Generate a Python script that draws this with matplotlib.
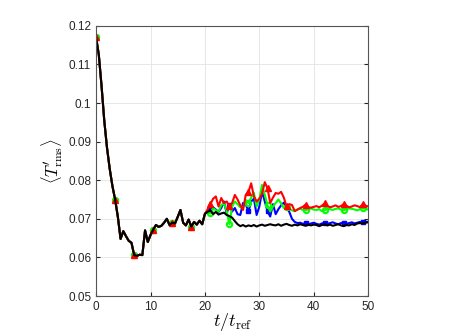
import numpy as np
import matplotlib
matplotlib.use("Agg")
import matplotlib.pyplot as plt

plt.rcParams['font.family'] = ['Liberation Sans', 'DejaVu Sans']
plt.rcParams['mathtext.fontset'] = 'cm'

# time axis, step 0.5 from 0 to 50
t = np.arange(0, 50.01, 0.5)

# common transient (t = 0 .. 20), shared by all runs
early = [0.1170, 0.1125, 0.1045, 0.0955, 0.0885, 0.0830, 0.0785, 0.0750,
         0.0705, 0.0648, 0.0668, 0.0655, 0.0643, 0.0638, 0.0606, 0.0604,
         0.0607, 0.0606, 0.0670, 0.0640, 0.0658, 0.0672, 0.0684, 0.0679,
         0.0682, 0.0690, 0.0700, 0.0684, 0.0690, 0.0688, 0.0705, 0.0723,
         0.0690, 0.0683, 0.0698, 0.0680, 0.0692, 0.0685, 0.0695, 0.0686,
         0.0713]

# t = 20.5 .. 50
black_late = [0.0718, 0.0722, 0.0712, 0.0718, 0.0711, 0.0714, 0.0716, 0.0710,
              0.0707, 0.0703, 0.0694, 0.0686, 0.0681, 0.0684, 0.0680, 0.0683,
              0.0681, 0.0684, 0.0680, 0.0683, 0.0685, 0.0682, 0.0684, 0.0686,
              0.0684, 0.0683, 0.0686, 0.0682, 0.0685, 0.0687, 0.0684, 0.0682,
              0.0685, 0.0683, 0.0686, 0.0684, 0.0682, 0.0685, 0.0683, 0.0685,
              0.0684, 0.0681, 0.0684, 0.0686, 0.0683, 0.0685, 0.0682, 0.0684,
              0.0686, 0.0683, 0.0681, 0.0684, 0.0683, 0.0686, 0.0684, 0.0688,
              0.0689, 0.0688, 0.0690, 0.0691]
blue_late = [0.0720, 0.0726, 0.0730, 0.0724, 0.0718, 0.0728, 0.0745, 0.0714,
             0.0736, 0.0719, 0.0728, 0.0712, 0.0710, 0.0741, 0.0738, 0.0719,
             0.0745, 0.0752, 0.0710, 0.0732, 0.0771, 0.0745, 0.0720, 0.0706,
             0.0738, 0.0712, 0.0725, 0.0735, 0.0742, 0.0730, 0.0718, 0.0700,
             0.0692, 0.0689, 0.0690, 0.0687, 0.0689, 0.0686, 0.0688, 0.0690,
             0.0687, 0.0685, 0.0688, 0.0690, 0.0687, 0.0689, 0.0691, 0.0688,
             0.0686, 0.0689, 0.0690, 0.0687, 0.0689, 0.0691, 0.0688, 0.0690,
             0.0692, 0.0691, 0.0693, 0.0692]
green_late = [0.0718, 0.0714, 0.0728, 0.0722, 0.0719, 0.0735, 0.0741, 0.0720,
              0.0686, 0.0732, 0.0745, 0.0738, 0.0730, 0.0728, 0.0749, 0.0741,
              0.0755, 0.0767, 0.0732, 0.0752, 0.0788, 0.0762, 0.0735, 0.0719,
              0.0732, 0.0741, 0.0750, 0.0740, 0.0728, 0.0730, 0.0726, 0.0722,
              0.0720, 0.0724, 0.0726, 0.0723, 0.0722, 0.0725, 0.0727, 0.0724,
              0.0723, 0.0725, 0.0720, 0.0722, 0.0726, 0.0725, 0.0723, 0.0726,
              0.0727, 0.0724, 0.0722, 0.0725, 0.0727, 0.0726, 0.0724, 0.0722,
              0.0725, 0.0727, 0.0726, 0.0724]
red_late = [0.0725, 0.0738, 0.0752, 0.0758, 0.0732, 0.0754, 0.0741, 0.0745,
            0.0732, 0.0741, 0.0762, 0.0750, 0.0735, 0.0723, 0.0762, 0.0770,
            0.0792, 0.0758, 0.0745, 0.0752, 0.0765, 0.0795, 0.0779, 0.0741,
            0.0755, 0.0767, 0.0765, 0.0770, 0.0755, 0.0732, 0.0738, 0.0736,
            0.0720, 0.0724, 0.0728, 0.0731, 0.0737, 0.0730, 0.0729, 0.0731,
            0.0733, 0.0730, 0.0734, 0.0740, 0.0733, 0.0730, 0.0732, 0.0735,
            0.0731, 0.0733, 0.0738, 0.0734, 0.0730, 0.0732, 0.0735, 0.0733,
            0.0730, 0.0738, 0.0734, 0.0732]

black = early + black_late
blue = early + blue_late
green = early + green_late
red = early + red_late

yticks = [0.05, 0.06, 0.07, 0.08, 0.09, 0.1, 0.11, 0.12]
ytick_labels = ['0.05', '0.06', '0.07', '0.08', '0.09', '0.1', '0.11', '0.12']

fig = plt.figure(figsize=(4.49, 3.36), dpi=100)
ax = fig.add_axes([0.214, 0.119, 0.606, 0.804])

ax.plot(t, blue, color='#0000ff', lw=1.5, marker='s', ms=3.5, markevery=7)
ax.plot(t, green, color='#00ff00', lw=1.5, marker='o', ms=3.8, markevery=7,
        mfc='none', mew=1.5)
ax.plot(t, red, color='#ff0000', lw=1.5, marker='^', ms=5, markevery=7)
ax.plot(t, black, color='black', lw=1.5)

ax.set_xlim(0, 50)
ax.set_ylim(0.05, 0.12)
ax.set_xticks([0, 10, 20, 30, 40, 50])
ax.set_yticks(yticks)
ax.set_yticklabels(ytick_labels)
ax.grid(True, color='#e3e3e3', lw=0.6)
ax.set_axisbelow(True)
ax.tick_params(direction='in', labelsize=8.5, colors='#262626', length=3,
               top=False, right=True)
for s in ax.spines.values():
    s.set_color('#555555')
    s.set_linewidth(0.8)

ax.set_xlabel(r'$t/t_{\rm ref}$', fontsize=13)
ax.xaxis.set_label_coords(0.5, -0.055)
ax.set_ylabel(r'$\langle T^{\prime}_{\rm rms}\rangle$', fontsize=12, labelpad=2)

fig.savefig('out.png', dpi=100)
